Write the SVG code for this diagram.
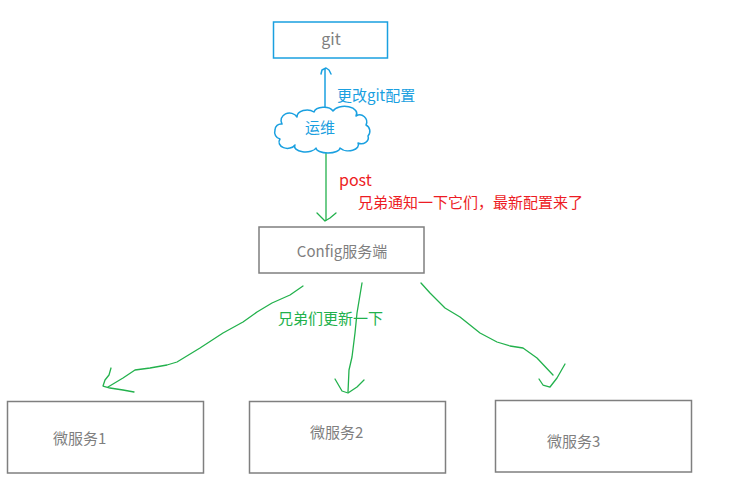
<svg xmlns="http://www.w3.org/2000/svg" width="749" height="486" viewBox="0 0 749 486">
<style>
.box{fill:#fff;stroke:#7f7f7f;stroke-width:1.5}
.bbox{fill:#fff;stroke:#1aa0e0;stroke-width:1.5}
.t{font-family:"Microsoft YaHei","Noto Sans CJK SC","Liberation Sans",sans-serif;font-size:15px}
.gray{fill:#7f7f7f}
.blue{fill:#1aa0e0}
.red{fill:#ed1c24}
.green{fill:#22b14c}
.g{fill:none;stroke:#22b14c;stroke-width:1.3;stroke-linejoin:round;stroke-linecap:round}
.b{fill:none;stroke:#1aa0e0;stroke-width:1.5;stroke-linejoin:round;stroke-linecap:round}
</style>
<rect width="749" height="486" fill="#fff"/>
<g id="connectors">
<polyline class="b" points="325,110 325,69"/>
<polyline class="b" points="321,74 322,70 326,68 329,70 331,74"/>
<polyline class="g" points="326,153 326,220"/>
<polyline class="g" points="317,213 322,218 325,221 330,218 336,213"/>
<polyline class="g" points="303,286 290,295 272,303 257,312 243,322 223,333 200,348 177,362 167,365 150,368 135,370 123,378 108,387"/>
<polyline class="g" points="111,368 109,375 105,380 103,386 110,388 123,390 134,392"/>
<polyline class="g" points="362,283 360,295 357,313 355,333 352,357 349,370 348,392"/>
<polyline class="g" points="335,379 342,391 348,393 357,387 364,380"/>
<polyline class="g" points="421,283 430,293 445,308 460,317 480,333 497,342 510,346 523,348 537,358 553,375"/>
<polyline class="g" points="539,379 543,385 550,387 557,378 565,364"/>
</g>
<g id="labels">
<text class="t blue" x="337" y="101">更改git配置</text>
<text class="t red" x="339" y="186" style="font-size:16px">post</text>
<text class="t red" x="358" y="208">兄弟通知一下它们，最新配置来了</text>
<text class="t green" x="278" y="324">兄弟们更新一下</text>
</g>
<g id="git">
<rect class="bbox" x="273.5" y="22" width="114" height="36"/>
<text class="t gray" x="331" y="45" text-anchor="middle" style="font-size:16px">git</text>
</g>
<g id="yunwei">
<path class="b" d="M282,124 A8 7 0 0 1 297,117 A10 7 0 0 1 314,112 A10 6 0 0 1 333,111 A12 7 0 0 1 356,116 A7 7 0 0 1 366,125 A7 7 0 0 1 368,136 A7 6 0 0 1 358,143 A10 6 0 0 1 340,148 A12 5 0 0 1 316,148 A10 5 0 0 1 295,145 A8 6 0 0 1 280,139 A7 7 0 0 1 275,130 A6 6 0 0 1 282,124 Z" style="fill:#fff"/>
<text class="t blue" x="320" y="133" text-anchor="middle">运维</text>
</g>
<g id="config">
<rect class="box" x="259" y="227" width="165" height="46"/>
<text class="t gray" x="342" y="257" text-anchor="middle">Config服务端</text>
</g>
<g id="ms1">
<rect class="box" x="7.5" y="401.5" width="196" height="71.5"/>
<text class="t gray" x="53" y="444">微服务1</text>
</g>
<g id="ms2">
<rect class="box" x="249.5" y="401.5" width="196" height="71.5"/>
<text class="t gray" x="310" y="438">微服务2</text>
</g>
<g id="ms3">
<rect class="box" x="495.5" y="400.5" width="196" height="71.5"/>
<text class="t gray" x="547" y="447">微服务3</text>
</g>
</svg>
